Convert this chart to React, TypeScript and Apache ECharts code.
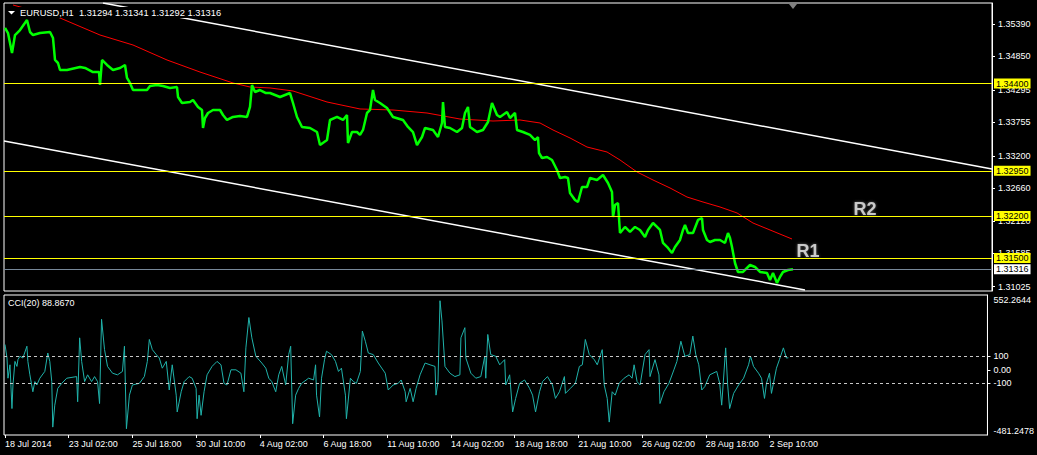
import React, { useEffect, useRef } from "react";
import * as echarts from "echarts";

// ---- DATA (bar index, price) ----
const priceSeries: [number, number][] = [
  [0, 1.35324], [3, 1.3524], [7, 1.34908], [10, 1.35207], [15, 1.3529], [22, 1.35456], [25, 1.35257],
  [28, 1.35207], [35, 1.3524], [45, 1.35257], [48, 1.35157], [50, 1.34792], [53, 1.34742], [55, 1.34626],
  [62, 1.34626], [75, 1.34675], [80, 1.34659], [88, 1.34592], [94, 1.34592], [95, 1.34376], [97, 1.34792],
  [102, 1.34709], [108, 1.34626], [115, 1.34659], [120, 1.34709], [122, 1.34493], [125, 1.3441], [128, 1.34293],
  [135, 1.34293], [142, 1.34293], [145, 1.3436], [152, 1.34376], [158, 1.3436], [165, 1.34327], [172, 1.34343],
  [173, 1.34177], [177, 1.34077], [185, 1.34094], [188, 1.34127], [193, 1.34011], [197, 1.33961], [198, 1.33662],
  [200, 1.33828], [203, 1.33911], [208, 1.33961], [215, 1.33961], [218, 1.33878], [222, 1.33795], [228, 1.33845],
  [235, 1.33861], [242, 1.33845], [245, 1.34011], [247, 1.34376], [250, 1.3426], [255, 1.34293], [261, 1.34243],
  [265, 1.34243], [275, 1.34177], [285, 1.34243], [288, 1.34077], [292, 1.33845], [297, 1.33679], [305, 1.33662],
  [312, 1.33595], [315, 1.33379], [322, 1.33462], [325, 1.33795], [332, 1.33845], [338, 1.33795], [342, 1.33878],
  [343, 1.33413], [347, 1.33595], [352, 1.33595], [355, 1.33546], [358, 1.33629], [362, 1.33911], [365, 1.33961],
  [368, 1.34293], [370, 1.34127], [375, 1.34077], [382, 1.33994], [388, 1.33845], [398, 1.33795], [403, 1.33679],
  [408, 1.33595], [412, 1.33379], [417, 1.33512], [420, 1.33662], [428, 1.33629], [433, 1.33512], [437, 1.33745],
  [438, 1.34094], [440, 1.33679], [445, 1.33662], [452, 1.33595], [457, 1.33662], [460, 1.33911], [463, 1.34011],
  [465, 1.33679], [472, 1.33595], [478, 1.33629], [483, 1.33762], [487, 1.34077], [492, 1.33878], [495, 1.33845],
  [502, 1.33928], [505, 1.33828], [510, 1.33911], [512, 1.33629], [518, 1.33595], [525, 1.33546], [530, 1.33462],
  [533, 1.33512], [534, 1.33246], [537, 1.33163], [542, 1.3318], [547, 1.3313], [552, 1.32964], [555, 1.32831],
  [560, 1.32848], [563, 1.32831], [565, 1.32582], [570, 1.32465], [573, 1.32432], [577, 1.32681], [582, 1.32681],
  [585, 1.32831], [592, 1.32798], [598, 1.32881], [603, 1.32748], [607, 1.32598], [608, 1.32183], [610, 1.32382],
  [613, 1.32416], [615, 1.31917], [620, 1.32017], [625, 1.31934], [630, 1.32017], [635, 1.31967], [640, 1.31851],
  [643, 1.31967], [648, 1.32083], [652, 1.32017], [655, 1.31967], [658, 1.31751], [663, 1.31668], [667, 1.31585],
  [670, 1.31684], [675, 1.31801], [678, 1.31967], [680, 1.3205], [683, 1.31917], [688, 1.31917], [693, 1.32133],
  [697, 1.32166], [698, 1.31967], [702, 1.31801], [705, 1.31767], [710, 1.31801], [715, 1.31801], [720, 1.31751],
  [723, 1.31917], [725, 1.31834], [727, 1.31684], [730, 1.31418], [733, 1.31269], [738, 1.31269], [745, 1.31385],
  [750, 1.31352], [755, 1.31269], [762, 1.31252], [765, 1.31136], [768, 1.31252], [772, 1.31086], [775, 1.31186],
  [778, 1.31269], [783, 1.31302], [788, 1.31316],
];

const maSeries: [number, number][] = [
  [8, 1.35706], [55, 1.3549], [95, 1.35207], [128, 1.35041], [162, 1.34792], [195, 1.34592], [228, 1.3441],
  [245, 1.34343], [265, 1.34327], [288, 1.34277], [322, 1.34094], [355, 1.33978], [388, 1.33961], [422, 1.33911],
  [455, 1.33811], [488, 1.33778], [515, 1.33795], [535, 1.33745], [548, 1.33629], [565, 1.33496], [582, 1.33346],
  [602, 1.33263], [615, 1.3313], [632, 1.32931], [648, 1.32798], [665, 1.32665], [682, 1.32515], [698, 1.32432],
  [715, 1.32349], [732, 1.3225], [748, 1.32083], [765, 1.31967], [787, 1.31817],
];

const cciSeries: [number, number][] = [
  [0, 187], [2, 87], [3, -62], [5, 37], [7, -286], [8, -112], [10, 62], [12, 25], [13, 75], [15, 100], [18, 87],
  [22, 174], [23, 62], [25, -37], [28, -162], [30, -87], [32, -112], [35, -62], [40, -12], [43, 124], [45, 62],
  [47, -87], [48, -423], [50, -261], [53, -137], [57, -100], [62, -62], [72, -50], [73, -236], [75, 236], [77, 62],
  [80, -87], [83, -37], [87, -87], [90, -50], [93, -87], [95, -249], [97, 373], [100, 149], [103, 25], [108, -25],
  [113, -37], [118, -12], [120, 174], [122, -435], [125, -187], [128, -112], [135, -100], [140, -50], [143, 62],
  [145, 224], [148, 149], [152, 112], [155, 87], [158, 12], [162, 62], [165, -149], [168, 37], [172, -187],
  [173, -311], [177, -162], [180, -87], [185, -50], [188, -62], [192, -137], [193, -361], [195, -187], [197, -336],
  [200, -162], [203, -37], [208, 25], [213, 62], [217, 37], [220, -100], [223, -112], [227, 0], [232, 0], [237, -25],
  [240, -162], [242, 162], [245, 386], [248, 236], [252, 100], [258, 50], [262, 12], [265, -62], [268, -87],
  [272, -162], [275, -37], [278, 25], [282, -112], [285, 112], [287, 174], [289, -398], [292, -187], [295, -137],
  [298, -100], [305, -62], [310, -75], [312, 37], [313, -187], [316, -348], [318, -62], [321, 75], [323, 137],
  [328, 112], [332, 62], [335, -12], [338, 12], [342, -187], [343, -361], [347, -62], [350, -87], [353, -100],
  [357, -12], [359, 286], [362, 211], [365, 124], [370, 112], [375, 50], [382, -25], [385, -149], [390, -112],
  [395, -100], [398, -75], [402, -162], [403, -236], [407, -137], [410, -236], [413, -137], [417, -37], [422, 50],
  [427, 37], [432, 25], [433, -187], [435, -87], [437, 510], [439, 361], [442, 25], [447, -25], [452, -50],
  [457, -37], [458, 236], [462, 311], [463, 87], [468, -25], [473, -62], [478, -50], [482, 100], [483, -62],
  [485, 261], [488, 112], [493, 100], [497, 37], [502, 75], [503, -112], [507, -37], [510, -311], [513, -211],
  [517, -100], [522, -75], [527, -137], [530, -187], [533, -311], [537, -162], [540, -87], [545, -50], [550, -112],
  [553, -211], [557, -162], [562, -50], [563, -174], [568, -137], [573, -100], [577, 25], [580, 37], [583, 224],
  [587, 112], [592, 75], [595, 37], [600, 149], [602, -112], [605, -211], [607, -386], [610, -162], [613, -187],
  [617, -100], [622, -62], [627, -37], [630, -62], [632, 37], [635, -87], [638, -112], [643, 112], [647, 149],
  [648, -50], [653, 75], [657, -37], [658, -249], [662, -162], [667, -100], [672, 0], [675, 62], [679, 211],
  [683, 100], [688, 112], [691, 249], [694, 112], [697, 37], [700, -149], [703, -124], [708, -37], [715, -12],
  [718, -100], [720, -261], [724, 162], [726, -112], [728, -286], [732, -174], [737, -112], [742, -62], [747, 37],
  [749, 100], [752, 25], [757, -25], [760, -62], [763, -211], [765, -100], [768, -25], [770, -174], [775, 12],
  [778, 75], [782, 162], [785, 87], [787, 88.867],
];

const upperChannel: [number, number][] = [[98, 1.35739], [987, 1.32981]];
const lowerChannel: [number, number][] = [[-1, 1.33446], [800, 1.3097]];
const levelLines = [1.344, 1.3295, 1.322, 1.315];
const bidPrice = 1.31316;
const cciLevels = [100, -100];
const rLabels = [
  { name: "R2", value: [860, 1.32319] },
  { name: "R1", value: [803, 1.31613] },
];

const priceTicks = [1.3539, 1.3485, 1.34295, 1.33755, 1.332, 1.3266, 1.3212, 1.31585, 1.31025];
const cciMax = 552.2644;
const cciMin = -481.2478;
const cciTicks = [cciMax, 100, 0, -100, cciMin];
const xTickBars = [0, 64, 128, 192, 256, 320, 384, 448, 512, 576, 640, 704, 768];
const xTickLabels = [
  "18 Jul 2014", "23 Jul 02:00", "25 Jul 18:00", "30 Jul 10:00", "4 Aug 02:00", "6 Aug 18:00",
  "11 Aug 10:00", "14 Aug 02:00", "18 Aug 18:00", "21 Aug 10:00", "26 Aug 02:00", "28 Aug 18:00", "2 Sep 10:00",
];

const FONT = "Liberation Sans, Arial, sans-serif";

export default function App() {
  const ref = useRef<HTMLDivElement>(null);

  useEffect(() => {
    if (!ref.current) return;
    const chart = echarts.init(ref.current, null, { renderer: "svg" });
    const txt = { color: "#fff", fontSize: 9, fontFamily: FONT };

    const levelData: any[] = levelLines.map((v) => ({
      yAxis: v,
      lineStyle: { color: "#ffff00", width: 1, type: "solid" },
      label: { backgroundColor: "#ffff00", color: "#000" },
    }));
    levelData.push({
      yAxis: bidPrice,
      lineStyle: { color: "#778899", width: 1, type: "solid" },
      label: { backgroundColor: "#ffffff", color: "#000" },
    });

    chart.setOption({
      animation: false,
      backgroundColor: "#000",
      title: [
        {
          text: "EURUSD,H1  1.31294 1.31341 1.31292 1.31316",
          left: 18,
          top: 7,
          padding: [1, 2, 1, 2],
          backgroundColor: "#000",
          textStyle: { ...txt, fontSize: 9.3, fontWeight: "normal" },
        },
        {
          text: "CCI(20) 88.8670",
          left: 8,
          top: 298,
          padding: 0,
          textStyle: { ...txt, fontWeight: "normal" },
        },
      ],
      grid: [
        { left: 4, top: 3, width: 988, height: 288, show: true, borderColor: "#fff", borderWidth: 1, backgroundColor: "#000" },
        { left: 4, top: 295, width: 988, height: 140, show: true, borderColor: "#fff", borderWidth: 1, backgroundColor: "#000" },
      ],
      xAxis: [
        { gridIndex: 0, type: "value", min: -1, max: 987, show: false },
        {
          gridIndex: 1,
          type: "value",
          min: -1,
          max: 987,
          position: "bottom",
          axisLine: { show: false, onZero: false },
          splitLine: { show: false },
          axisTick: { show: true, length: 3, lineStyle: { color: "#fff" }, customValues: xTickBars },
          axisLabel: {
            ...txt,
            customValues: xTickBars,
            align: "left",
            margin: 4,
            formatter: (v: number) => {
              const k = xTickBars.indexOf(Math.round(v));
              return k >= 0 ? xTickLabels[k] : "";
            },
          },
        },
      ],
      yAxis: [
        {
          gridIndex: 0,
          type: "value",
          position: "right",
          min: 1.30953,
          max: 1.35739,
          splitLine: { show: false },
          axisLine: { show: true, onZero: false, lineStyle: { color: "#fff" } },
          axisTick: { show: true, length: 3, lineStyle: { color: "#fff" }, customValues: priceTicks },
          axisLabel: { ...txt, customValues: priceTicks, margin: 6, formatter: (v: number) => v.toFixed(5) },
        },
        {
          gridIndex: 1,
          type: "value",
          position: "right",
          min: cciMin,
          max: cciMax,
          splitLine: { show: false },
          axisLine: { show: true, onZero: false, lineStyle: { color: "#fff" } },
          axisTick: { show: true, length: 3, lineStyle: { color: "#fff" }, customValues: [100, 0, -100] },
          axisLabel: {
            ...txt,
            customValues: cciTicks,
            margin: 6,
            showMinLabel: true,
            showMaxLabel: true,
            formatter: (v: number) => {
              if (v === 0) return "0.00";
              if (Math.abs(v) === 100) return String(v);
              if (v > 0) return "{top|" + v.toFixed(4) + "}";
              return "{bot|" + v.toFixed(4) + "}";
            },
            rich: {
              top: { ...txt, padding: [10, 0, 0, 0] },
              bot: { ...txt, padding: [0, 0, 8, 0] },
            },
          },
        },
      ],
      series: [
        {
          name: "upper",
          type: "line",
          xAxisIndex: 0,
          yAxisIndex: 0,
          data: upperChannel,
          symbol: "none",
          lineStyle: { color: "#ffffff", width: 1.5 },
          z: 1,
        },
        {
          name: "lower",
          type: "line",
          xAxisIndex: 0,
          yAxisIndex: 0,
          data: lowerChannel,
          symbol: "none",
          lineStyle: { color: "#ffffff", width: 1.5 },
          z: 1,
        },
        {
          name: "MA",
          type: "line",
          xAxisIndex: 0,
          yAxisIndex: 0,
          data: maSeries,
          symbol: "none",
          lineStyle: { color: "#ff0000", width: 1 },
          z: 2,
        },
        {
          name: "EURUSD",
          type: "line",
          xAxisIndex: 0,
          yAxisIndex: 0,
          data: priceSeries,
          symbol: "none",
          lineStyle: { color: "#00ff00", width: 2.5 },
          z: 3,
          markLine: {
            silent: true,
            precision: 5,
            symbol: ["none", "none"],
            label: {
              show: true,
              position: "end",
              distance: 2,
              padding: [1, 2, 0, 2],
              fontSize: 9,
              fontFamily: FONT,
              formatter: (p: any) => Number(p.value).toFixed(5),
            },
            data: levelData,
          },
        },
        {
          name: "R",
          type: "scatter",
          xAxisIndex: 0,
          yAxisIndex: 0,
          data: rLabels,
          symbolSize: 1,
          itemStyle: { color: "rgba(0,0,0,0)" },
          label: {
            show: true,
            position: "inside",
            formatter: "{b}",
            fontSize: 18,
            fontWeight: "bold",
            fontFamily: FONT,
            color: "#eeeeee",
            textShadowColor: "rgba(200,200,200,0.6)",
            textShadowBlur: 3,
          },
          z: 4,
        },
        {
          name: "CCI",
          type: "line",
          xAxisIndex: 1,
          yAxisIndex: 1,
          data: cciSeries,
          symbol: "none",
          lineStyle: { color: "#20b2aa", width: 1 },
          markLine: {
            silent: true,
            symbol: ["none", "none"],
            label: { show: false },
            lineStyle: { color: "#c8c8c8", width: 1, type: [3, 3] },
            data: cciLevels.map((v) => ({ yAxis: v })),
          },
        },
      ],
      graphic: [
        { type: "polygon", shape: { points: [[8, 11], [15, 11], [11.5, 14.5]] }, style: { fill: "#fff" }, z: 10 },
        { type: "polygon", shape: { points: [[789, 4], [797, 4], [793, 9]] }, style: { fill: "#808080" }, z: 10 },
      ],
    });
    return () => chart.dispose();
  }, []);

  return (
    <div
      ref={ref}
      style={{ position: "absolute", left: 0, top: 0, width: 1037, height: 455, background: "#000" }}
    />
  );
}
